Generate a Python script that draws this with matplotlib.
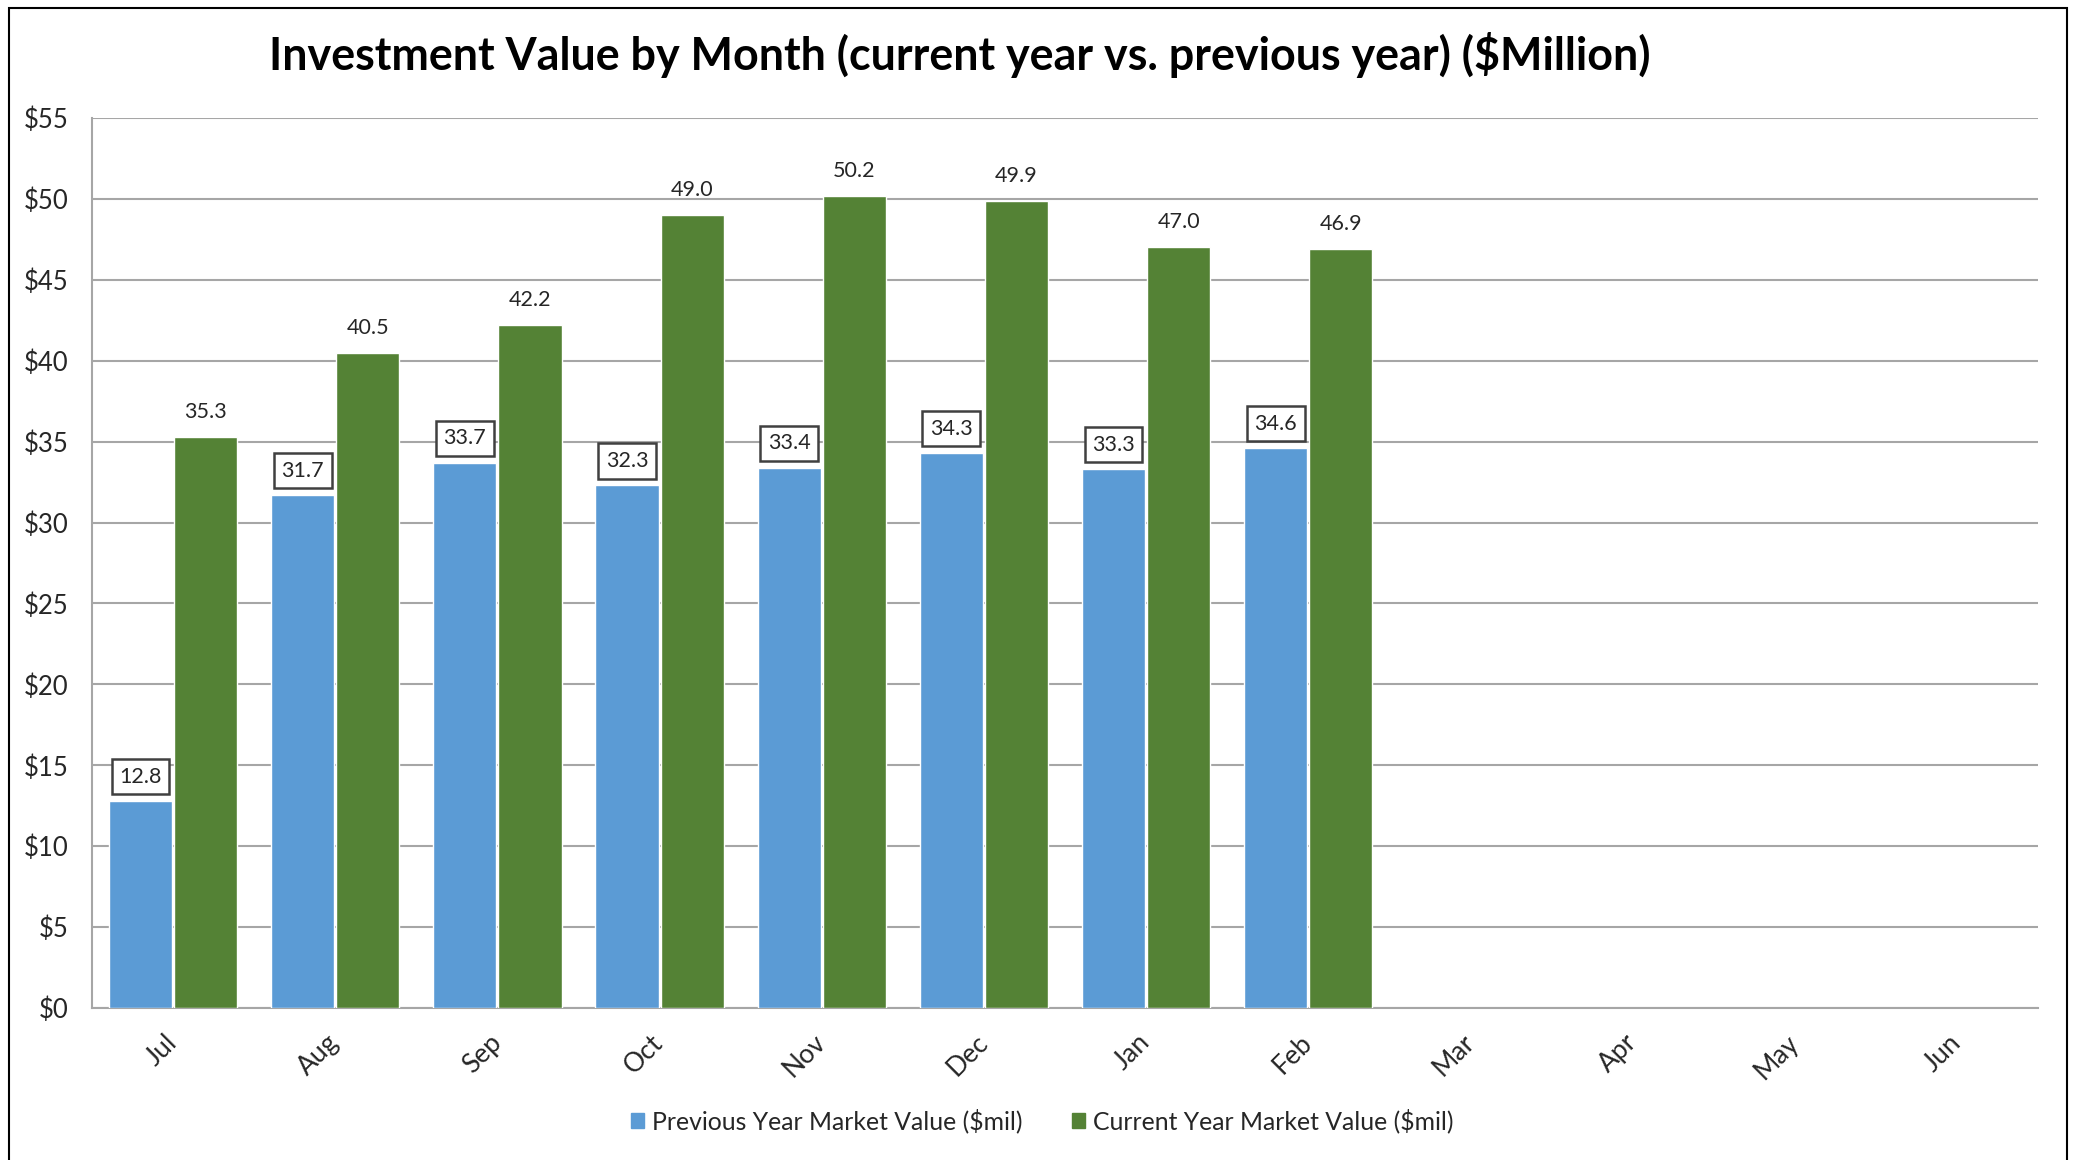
import matplotlib
matplotlib.use("Agg")
import matplotlib.pyplot as plt
import matplotlib.patches as mpatches
import numpy as np

months = ["Jul", "Aug", "Sep", "Oct", "Nov", "Dec", "Jan", "Feb", "Mar", "Apr", "May", "Jun"]
prev_values = [12.8, 31.7, 33.7, 32.3, 33.4, 34.3, 33.3, 34.6]
curr_values = [35.3, 40.5, 42.2, 49.0, 50.2, 49.9, 47.0, 46.9]
y_ticks = [0, 5, 10, 15, 20, 25, 30, 35, 40, 45, 50, 55]
title = "Investment Value by Month (current year vs. previous year) ($Million)"
prev_label = "Previous Year Market Value ($mil)"
curr_label = "Current Year Market Value ($mil)"

BLUE = "#5B9BD5"
GREEN = "#548235"
GRID = "#A6A6A6"
FONT = ["Lato", "DejaVu Sans"]
plt.rcParams['font.family'] = FONT

W, H = 2073, 1160
fig = plt.figure(figsize=(W / 100, H / 100), dpi=100)
fig.patch.set_facecolor("white")

left, right, top, bottom = 92, 2038, 118, 1008
ax = fig.add_axes([left / W, 1 - bottom / H, (right - left) / W, (bottom - top) / H])

x = np.arange(len(months))
bw = 0.39
xp = x[:len(prev_values)] - bw / 2 - 0.006
xc = x[:len(curr_values)] + bw / 2 + 0.006
ax.bar(xp, prev_values, width=bw, color=BLUE, edgecolor="white", linewidth=1.0, zorder=3)
ax.bar(xc, curr_values, width=bw, color=GREEN, edgecolor="white", linewidth=1.0, zorder=3)

for xi, v in zip(xp, prev_values):
    ax.annotate(f"{v:.1f}", (xi, v), xytext=(0, 17.5), textcoords="offset points",
                ha="center", va="center", fontsize=15.5, color="#262626", zorder=5,
                bbox=dict(boxstyle="square,pad=0.35", fc="white", ec="#404040", lw=1.8))
for xi, v in zip(xc, curr_values):
    ax.annotate(f"{v:.1f}", (xi, v), xytext=(0, 18), textcoords="offset points",
                ha="center", va="center", fontsize=15.5, color="#262626", zorder=5)

ax.set_xlim(-0.5, len(months) - 0.5)
ax.set_ylim(0, 55)
ax.set_yticks(y_ticks)
ax.set_yticklabels([f"${t}" for t in y_ticks], fontsize=18.5, color="#262626")
ax.set_xticks(x)
ax.set_xticklabels(months, fontsize=19, color="#262626", rotation=45, ha="right",
                   va="center", rotation_mode="anchor")
ax.tick_params(axis="both", length=0)
ax.tick_params(axis="y", pad=17)
ax.tick_params(axis="x", pad=22)
ax.yaxis.grid(True, color=GRID, linewidth=1.5, zorder=0)
ax.set_axisbelow(True)
for s in ["top", "right"]:
    ax.spines[s].set_visible(False)
for s in ["left", "bottom"]:
    ax.spines[s].set_color(GRID)
    ax.spines[s].set_linewidth(1.5)

fig.text(960 / W, 1 - 55 / H, title, ha="center", va="center", fontsize=32.3,
         fontweight="bold", color="black")

handles = [mpatches.Patch(color=BLUE, label=prev_label), mpatches.Patch(color=GREEN, label=curr_label)]
fig.legend(handles=handles, loc="center", bbox_to_anchor=(1042 / W, 1 - 1121 / H), ncol=2,
           frameon=False, fontsize=17.8, handlelength=0.55, handleheight=0.55, handletextpad=0.3,
           columnspacing=2.0, labelcolor="#262626")

border = mpatches.Rectangle((9 / W, -0.02), (2067 - 9) / W, (H - 8) / H + 0.02,
                            transform=fig.transFigure, fill=False, ec="black", lw=1.5)
fig.add_artist(border)

fig.savefig("out.png", dpi=100)
